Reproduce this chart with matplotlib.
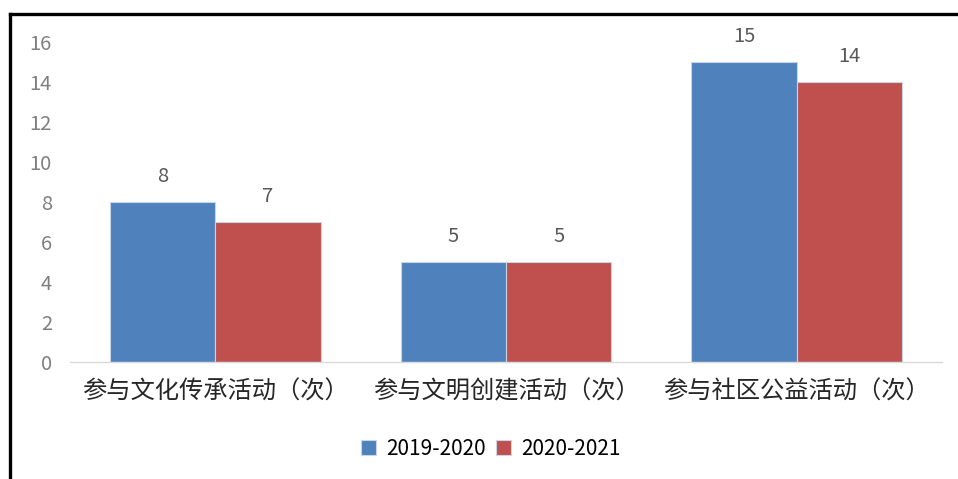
import matplotlib
matplotlib.use('Agg')
import matplotlib.pyplot as plt
from matplotlib.lines import Line2D
import numpy as np

plt.rcParams['font.family'] = ['Noto Sans CJK SC', 'DejaVu Sans']

# data
categories = ['参与文化传承活动（次）', '参与文明创建活动（次）', '参与社区公益活动（次）']
series_names = ['2019-2020', '2020-2021']
values_1920 = [8, 5, 15]
values_2021 = [7, 5, 14]
colors = ['#4F81BD', '#C0504D']

fig = plt.figure(figsize=(9.58, 4.79), dpi=100)
ax = fig.add_axes([70 / 958, 117 / 479, 872 / 958, 320 / 479])

x = np.arange(len(categories))
w = 0.362
for i, (vals, name) in enumerate(zip([values_1920, values_2021], series_names)):
    pos = x + (i - 0.5) * w
    bars = ax.bar(pos, vals, width=w, color=colors[i], edgecolor='#c8d4e8',
                  linewidth=0.8, label=name)
    # value labels above bars
    for b, v in zip(bars, vals):
        ax.annotate(str(v), (b.get_x() + b.get_width() / 2, v),
                    xytext=(0, 18), textcoords='offset points',
                    ha='center', va='center', fontsize=14.5, color='#595959')

ax.set_xlim(-0.5, 2.5)
ax.set_ylim(0, 16)
ax.set_yticks(range(0, 17, 2))
ax.set_xticks(x)
ax.set_xticklabels(categories, fontsize=17.5, color='#262626')
ax.tick_params(axis='y', length=0, pad=13, labelsize=14.5, labelcolor='#7f7f7f')
ax.tick_params(axis='x', length=0, pad=12)
for s in ['top', 'right', 'left']:
    ax.spines[s].set_visible(False)
ax.spines['bottom'].set_color('#d9d9d9')
ax.spines['bottom'].set_linewidth(1)

fig.legend(loc='center', bbox_to_anchor=(0.512, 30 / 479), ncol=2, frameon=False,
           fontsize=15, handlelength=0.75, handleheight=0.75, handletextpad=0.45,
           columnspacing=0.5)

# black frame lines at top and left
fig.add_artist(Line2D([9.5 / 958, 1], [1 - 13.5 / 479] * 2, color='black', lw=2.4,
                      transform=fig.transFigure))
fig.add_artist(Line2D([9.5 / 958] * 2, [0, 1 - 13.5 / 479], color='black', lw=2.4,
                      transform=fig.transFigure))

fig.savefig('out.png', dpi=100)
